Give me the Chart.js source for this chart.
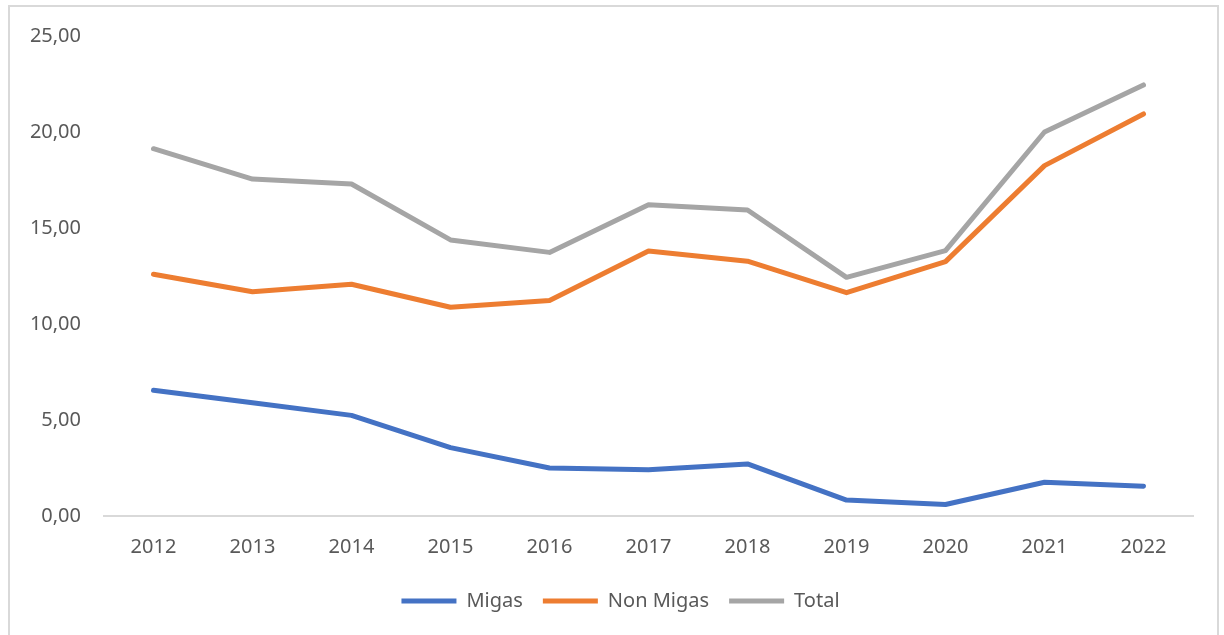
<!DOCTYPE html>
<html>
<head>
<meta charset="utf-8">
<script src="https://cdn.jsdelivr.net/npm/chart.js@4/dist/chart.umd.min.js"></script>
<style>
  html, body { margin: 0; padding: 0; background: #fff; overflow: hidden; }
  #frame { position: absolute; left: 8px; top: 5px; width: 1211px; height: 700px; border: 2px solid #d9d9d9; box-sizing: border-box; }
  #wrap { position: absolute; left: 0; top: 0; width: 1224px; height: 635px; }
</style>
</head>
<body>
<div id="frame"></div>
<div id="wrap"><canvas id="c" width="1224" height="635"></canvas></div>
<script>
const categories = ['2012','2013','2014','2015','2016','2017','2018','2019','2020','2021','2022'];
const migas    = [6.55, 5.90, 5.24, 3.56, 2.50, 2.41, 2.71, 0.83, 0.60, 1.76, 1.55];
const nonMigas = [12.59, 11.68, 12.07, 10.87, 11.22, 13.80, 13.27, 11.63, 13.25, 18.25, 20.94];
const total    = [19.13, 17.55, 17.29, 14.38, 13.73, 16.21, 15.94, 12.43, 13.82, 20.00, 22.45];
const seriesNames = ['Migas', 'Non Migas', 'Total'];
const yTicks = [0, 5, 10, 15, 20, 25];

const FONT = "'Noto Sans', 'Open Sans', sans-serif";
const textColor = '#595959';

function ds(label, data, color) {
  return {
    label, data,
    borderColor: color, backgroundColor: color,
    borderWidth: 5, borderCapStyle: 'round', borderJoinStyle: 'round',
    pointRadius: 0, pointHoverRadius: 0, tension: 0, fill: false
  };
}

const shiftLegend = {
  id: 'shiftLegend',
  afterLayout(chart) {
    if (chart.legend) { chart.legend.left = 48; }
  }
};

new Chart(document.getElementById('c'), {
  type: 'line',
  data: {
    labels: categories,
    datasets: [
      ds(seriesNames[0], migas, '#4472C4'),
      ds(seriesNames[1], nonMigas, '#ED7D31'),
      ds(seriesNames[2], total, '#A5A5A5')
    ]
  },
  plugins: [shiftLegend],
  options: {
    responsive: false,
    animation: false,
    devicePixelRatio: 1,
    layout: { padding: { left: 0, right: 31, top: 36, bottom: 14 } },
    plugins: {
      legend: {
        position: 'bottom',
        labels: {
          usePointStyle: true, pointStyle: 'line', pointStyleWidth: 55,
          boxHeight: 20,
          padding: 20, color: textColor,
          font: { family: FONT, size: 20 }
        }
      },
      tooltip: { enabled: false }
    },
    scales: {
      x: {
        offset: true,
        grid: { display: false, drawTicks: false },
        border: { display: true, color: '#d9d9d9', width: 2 },
        ticks: { color: textColor, font: { family: FONT, size: 20 }, padding: 19, maxRotation: 0 },
        afterFit: s => { s.height = 55; }
      },
      y: {
        min: 0, max: 25,
        afterBuildTicks: s => { s.ticks = yTicks.map(v => ({ value: v })); },
        grid: { display: false, drawTicks: false },
        border: { display: false },
        ticks: {
          color: textColor, font: { family: FONT, size: 20 }, padding: 23,
          callback: v => Number(v).toFixed(2).replace('.', ',')
        },
        afterFit: s => { s.width = 104; }
      }
    }
  }
});
</script>
</body>
</html>
